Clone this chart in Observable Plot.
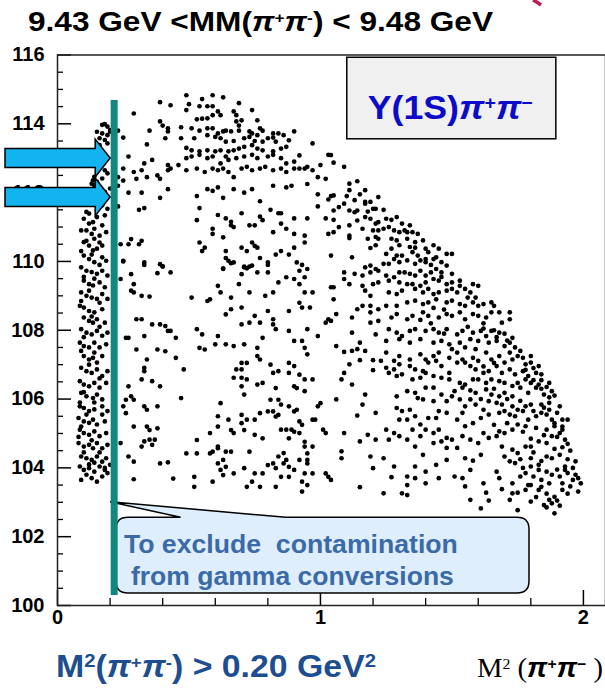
<!DOCTYPE html>
<html><head><meta charset="utf-8">
<script src="https://cdn.jsdelivr.net/npm/d3@7"></script>
<script src="https://cdn.jsdelivr.net/npm/@observablehq/plot@0.6"></script>
<style>
html,body{margin:0;padding:0;background:#fff;}
#chart{width:605px;height:688px;overflow:hidden;}
</style></head><body><div id="chart"></div>
<script>
// ---- data: Dalitz-plot events (x = M²(π+π-) GeV², y = M²(Υπ) GeV²) ----
const leftBand = [
[0.17,113.97],[0.18,113.99],[0.19,113.92],[0.15,113.77],[0.17,113.72],[0.19,113.67],[0.20,113.77],[0.16,113.58],[0.18,113.53],[0.19,113.43],[0.16,113.38],[0.20,113.82],
[0.14,112.46],[0.135,112.36],[0.15,112.31],[0.13,112.26],[0.14,112.21],[0.18,112.65],[0.19,112.56],[0.17,112.41],[0.20,112.12],[0.185,111.83],[0.17,111.63],[0.19,111.53],[0.15,111.83],[0.18,112.02],
[0.11,111.44],[0.12,111.39],[0.10,111.24],[0.12,111.10],[0.135,111.14],[0.15,111.29],[0.18,111.34],[0.17,111.05],[0.11,110.90],[0.13,110.80],[0.14,110.66],[0.16,110.75],[0.185,110.85],[0.10,110.56],[0.12,110.46],[0.135,110.32],[0.15,110.37],[0.17,110.46],[0.10,110.17],[0.12,110.07],[0.14,109.98],[0.17,110.12],[0.185,110.02],[0.09,109.83],[0.11,109.73],[0.13,109.69],[0.15,109.64],[0.17,109.73],[0.19,109.59],[0.10,109.44],[0.12,109.34],[0.135,109.30],[0.16,109.39],[0.18,109.25],[0.09,109.10],[0.11,109.00],[0.13,108.95],[0.15,108.91],[0.17,109.05],[0.19,108.91],[0.085,108.71],[0.10,108.66],[0.12,108.56],[0.14,108.52],[0.17,108.61],[0.10,108.37],[0.12,108.27],[0.135,108.22],[0.15,108.32],[0.18,108.22],[0.09,108.03],[0.11,107.93],[0.13,107.88],[0.15,107.98],[0.17,107.84],[0.19,107.93],[0.085,107.64],[0.10,107.54],[0.12,107.50],[0.14,107.64],[0.16,107.50],[0.185,107.59],[0.10,107.25],[0.12,107.15],[0.135,107.20],[0.15,107.06],[0.17,107.25],[0.09,106.91],[0.11,106.81],[0.13,106.76],[0.15,106.86],[0.17,106.67],[0.19,106.81],[0.085,106.52],[0.10,106.42],[0.12,106.37],[0.14,106.47],[0.16,106.33],[0.185,106.47],[0.09,106.18],[0.11,106.08],[0.135,106.03],[0.15,106.13],[0.17,105.99],[0.085,105.79],[0.10,105.74],[0.12,105.65],[0.14,105.70],[0.17,105.79],[0.19,105.65],[0.08,105.45],[0.10,105.35],[0.12,105.31],[0.135,105.40],[0.15,105.26],[0.18,105.35],[0.085,105.11],[0.10,105.01],[0.12,104.96],[0.14,105.06],[0.16,104.92],[0.185,105.01],[0.08,104.72],[0.10,104.62],[0.12,104.67],[0.135,104.57],[0.15,104.72],[0.17,104.57],[0.19,104.67],[0.09,104.33],[0.11,104.28],[0.13,104.23],[0.15,104.33],[0.17,104.18],[0.185,104.28],[0.085,104.04],[0.10,103.94],[0.12,103.99],[0.14,103.89],[0.16,104.04],[0.18,103.94],[0.20,104.09],[0.09,103.65],[0.13,103.70],[0.17,103.75],[0.15,103.60],
[0.09,110.9],[0.14,110.95],[0.11,110.6],[0.16,110.55],[0.09,110.3],[0.13,110.2],[0.16,109.9],[0.10,109.55],[0.14,109.5],[0.12,109.15],[0.16,108.8],[0.09,108.85],[0.13,108.4],[0.16,108.1],[0.10,107.8],[0.14,107.35],[0.12,107.0],[0.16,106.6],[0.10,106.2],[0.14,105.9],[0.11,105.55],[0.17,105.55],[0.09,105.2],[0.13,104.8],[0.10,104.45],[0.16,104.45],[0.12,104.1],[0.14,104.15],[0.18,104.0],[0.11,103.8],[0.19,103.85],[0.08,104.9],[0.085,105.9],[0.09,107.4]
];
const upperArc = [
[0.49,114.83],[0.55,114.72],[0.59,114.83],[0.63,114.77],[0.39,114.63],[0.43,114.54],[0.50,114.57],[0.54,114.51],[0.57,114.51],[0.59,114.51],[0.61,114.36],[0.62,114.25],[0.67,114.36],[0.69,114.60],[0.74,114.40],[0.29,114.30],[0.49,114.40],[0.53,114.13],[0.55,114.15],[0.57,114.16],[0.59,114.25],[0.68,114.25],[0.70,114.10],[0.76,114.10],[0.68,114.07],[0.69,113.95],[0.39,114.07],[0.40,113.95],[0.42,113.87],[0.42,113.78],[0.35,113.80],[0.47,113.90],[0.51,113.87],[0.54,113.80],[0.57,113.87],[0.59,113.87],[0.61,113.72],[0.63,113.78],[0.64,113.80],[0.66,113.78],[0.69,113.80],[0.73,113.78],[0.74,113.72],[0.77,113.87],[0.78,113.80],[0.76,113.67],[0.82,113.72],[0.84,113.72],[0.86,113.67],[0.90,113.78],[0.23,113.80],[0.25,113.60],[0.41,113.58],[0.47,113.58],[0.52,113.58],[0.57,113.67],[0.60,113.62],[0.62,113.58],[0.64,113.48],[0.67,113.50],[0.71,113.58],[0.73,113.62],[0.75,113.50],[0.78,113.48],[0.80,113.58],[0.82,113.60],[0.83,113.48],[0.88,113.52],[0.34,113.40],[0.49,113.30],[0.51,113.23],[0.54,113.20],[0.57,113.23],[0.60,113.20],[0.62,113.23],[0.65,113.20],[0.67,113.23],[0.69,113.28],[0.71,113.33],[0.74,113.38],[0.76,113.28],[0.78,113.23],[0.82,113.20],[0.85,113.28],[0.87,113.33],[0.92,113.08],[0.97,113.43],[0.27,113.05],[0.36,112.95],[0.33,112.85],[0.42,112.80],[0.43,112.70],[0.49,113.00],[0.51,113.05],[0.54,113.10],[0.57,113.00],[0.59,113.05],[0.62,112.85],[0.64,113.05],[0.65,112.95],[0.68,113.00],[0.71,113.05],[0.74,113.10],[0.76,113.00],[0.80,113.05],[0.82,113.10],[0.85,113.00],[0.87,112.85],[0.90,112.90],[0.92,112.70],[0.95,112.75],[0.97,112.65],[1.00,112.80],[1.03,113.10],[0.25,112.70],[0.29,112.60],[0.32,112.65],[0.34,112.45],[0.38,112.50],[0.39,112.40],[0.42,112.65],[0.46,112.80],[0.49,112.65],[0.53,112.70],[0.56,112.60],[0.59,112.70],[0.61,112.65],[0.63,112.70],[0.65,112.60],[0.67,112.45],[0.70,112.70],[0.72,112.75],[0.74,112.65],[0.77,112.70],[0.79,112.75],[0.82,112.65],[0.85,112.70],[0.87,112.60],[0.90,112.70],[0.94,112.70],[0.99,112.45],[1.02,112.40],[0.23,112.45],[0.25,112.35],[0.30,112.40],[0.23,112.20],[0.27,112.00],[0.32,112.00],[0.39,111.85],[0.42,112.10],[0.53,111.90],[0.57,112.10],[0.61,112.15],[0.59,112.05],[0.63,111.85],[0.67,112.10],[0.71,112.00],[0.74,112.10],[0.77,111.75],[0.82,112.20],[0.87,112.15],[0.89,112.20],[0.95,112.25],[0.99,111.95],[1.03,111.80],[0.23,111.60],[0.31,111.50],[0.33,111.55],[0.53,111.20],[0.54,111.55],[0.61,111.35],[0.64,111.25],[0.66,111.15],[0.66,111.05],[0.70,111.40],[0.73,111.05],[0.75,111.05],[0.77,111.30],[0.78,111.20],[0.81,111.50],[0.84,111.40],[0.85,111.40],[0.90,111.25],[0.95,111.25],[0.99,111.60],[1.02,111.25],[0.28,110.65],[0.32,110.60],[0.24,110.50],[0.27,110.50],[0.31,110.50],[0.59,110.95],[0.59,110.80],[0.63,110.70],[0.67,111.00],[0.74,110.55],[0.75,110.45],[0.82,110.85],[0.85,111.10],[0.87,110.95],[0.90,110.80],[0.94,110.75],[1.03,110.80],[0.54,110.55],[0.55,110.30],[0.56,110.40],[0.70,110.40],[0.72,110.30],[0.76,110.40],[0.83,110.20],[0.85,110.30],[0.88,110.20],[0.90,110.40],[0.94,110.55],[0.77,110.10],[0.80,109.90],[0.64,110.30],[0.64,110.10],[0.66,109.95],[0.71,109.85],[0.72,109.80],[0.73,109.85],[0.25,110.00],[0.33,109.90],[0.40,109.85],[0.63,109.80],[0.93,109.90]
];
const rightSlope = [
[1.04,113.09],[1.05,112.87],[1.09,112.75],[1.11,112.26],[1.14,112.33],[1.11,112.07],[1.17,112.07],[1.22,111.87],[1.05,111.92],[1.04,111.90],[1.13,111.78],[1.17,111.73],[1.19,111.73],[1.17,111.68],[1.09,111.68],[1.07,111.58],[1.05,111.48],[1.11,111.48],[1.13,111.43],[1.14,111.48],[1.20,111.53],[1.21,111.53],[1.24,111.50],[1.05,111.21],[1.17,111.29],[1.14,111.19],[1.19,111.24],[1.21,111.10],[1.22,111.14],[1.25,111.24],[1.27,111.21],[1.29,111.29],[1.31,111.10],[1.34,111.05],[1.07,111.00],[1.11,111.05],[1.16,110.95],[1.20,110.90],[1.22,110.90],[1.24,110.95],[1.28,110.90],[1.30,110.85],[1.32,110.90],[1.35,110.85],[1.37,110.80],[1.05,110.85],[1.11,110.75],[1.11,110.68],[1.18,110.66],[1.21,110.71],[1.22,110.66],[1.27,110.66],[1.29,110.61],[1.33,110.66],[1.36,110.56],[1.39,110.61],[1.19,110.39],[1.21,110.47],[1.27,110.37],[1.30,110.47],[1.34,110.42],[1.25,110.22],[1.29,110.17],[1.31,110.17],[1.35,110.27],[1.37,110.17],[1.40,110.37],[1.43,110.47],[1.45,110.37],[1.48,110.22],[1.50,110.22],[1.41,110.27],[1.44,110.12],[1.40,110.07],[1.04,110.17],[1.12,110.12],[1.28,110.07],[1.30,109.98],[1.33,110.03],[1.36,109.93],[1.38,110.03],[1.40,109.98],[1.43,110.07],[1.46,109.98],[1.48,109.88],[1.26,109.93],[1.24,109.93],[1.17,109.83],[1.19,109.88],[1.21,109.78],[1.09,109.68],[1.09,109.49],[1.13,109.64],[1.16,109.59],[1.19,109.68],[1.22,109.73],[1.25,109.59],[1.28,109.54],[1.30,109.68],[1.32,109.68],[1.34,109.64],[1.36,109.59],[1.38,109.73],[1.40,109.59],[1.42,109.68],[1.44,109.78],[1.46,109.68],[1.50,109.64],[1.26,109.44],[1.30,109.39],[1.33,109.34],[1.35,109.34],[1.38,109.29],[1.40,109.39],[1.43,109.49],[1.45,109.44],[1.48,109.34],[1.50,109.39],[1.53,109.44],
[1.04,109.25],[1.05,109.25],[1.11,109.34],[1.16,109.29],[1.20,109.34],[1.22,109.39],[1.17,109.15],[1.19,109.00],[1.26,109.10],[1.29,109.05],[1.31,109.15],[1.36,109.20],[1.39,109.10],[1.41,109.20],[1.43,109.05],[1.45,109.10],[1.48,109.15],[1.50,109.20],[1.53,109.29],[1.55,109.20],[1.58,109.34],[1.60,109.29],[1.57,109.10],[1.59,108.95],[1.05,108.90],[1.16,108.71],[1.19,108.71],[1.19,108.52],[1.22,108.61],[1.25,108.71],[1.29,108.71],[1.33,108.81],[1.36,108.86],[1.39,108.76],[1.41,108.81],[1.44,108.90],[1.48,108.81],[1.50,108.86],[1.53,108.76],[1.55,108.71],[1.58,108.81],[1.60,108.71],[1.62,108.76],[1.65,108.81],[1.66,108.71],[1.68,108.52],[1.72,108.52],[1.06,108.47],[1.12,108.37],[1.14,108.61],[1.04,108.27],[1.19,108.22],[1.22,108.27],[1.27,108.37],[1.29,108.47],[1.33,108.32],[1.35,108.42],[1.39,108.52],[1.41,108.42],[1.45,108.37],[1.48,108.47],[1.50,108.42],[1.53,108.52],[1.55,108.32],[1.58,108.47],[1.60,108.42],[1.63,108.37],[1.65,108.52],[1.69,108.22],[1.72,108.32],[1.12,107.93],[1.21,107.88],[1.26,108.03],[1.29,107.93],[1.31,107.83],[1.34,107.98],[1.36,108.03],[1.40,107.98],[1.43,108.03],[1.45,107.93],[1.48,108.03],[1.52,107.88],[1.54,107.98],[1.58,107.93],[1.61,107.98],[1.63,107.83],[1.65,107.98],[1.68,107.93],[1.73,107.78],[1.06,107.54],[1.15,107.64],[1.25,107.69],[1.30,107.74],[1.34,107.64],[1.38,107.74],[1.43,107.64],[1.46,107.69],[1.49,107.59],[1.53,107.64],[1.57,107.74],[1.60,107.69],[1.64,107.64],[1.67,107.69],[1.70,107.54],[1.72,107.64]
];
const lowerLeft = [
[0.25,110.02],[0.33,109.97],[0.39,109.92],[0.40,109.86],[0.38,109.66],[0.43,109.68],[0.28,109.63],[0.24,109.49],[0.29,109.34],[0.28,109.15],[0.29,109.10],[0.32,109.00],[0.35,108.98],[0.51,108.95],[0.57,108.85],[0.58,108.90],[0.61,109.29],[0.62,109.10],[0.66,108.95],[0.65,110.02],[0.63,109.78],[0.67,109.97],[0.70,109.63],[0.71,109.83],[0.74,109.88],[0.76,109.68],[0.80,109.97],[0.80,109.68],[0.84,109.39],[0.87,109.54],[0.90,109.49],[0.91,109.97],[0.92,109.73],[0.92,109.34],[0.94,109.54],[0.95,109.78],[0.94,109.10],[0.97,109.10],[0.92,108.80],[0.93,108.66],[0.96,108.66],[0.69,109.34],[0.73,109.10],[0.79,109.00],[0.82,109.10],[0.66,108.61],[0.64,108.46],[0.70,108.66],[0.75,108.42],[0.80,108.56],[0.82,108.32],[0.83,108.03],[0.88,107.98],[0.88,108.56],[0.95,108.03],[0.99,107.83],[1.02,108.22],[1.03,108.32],[0.30,108.32],[0.32,108.32],[0.36,108.17],[0.39,108.17],[0.41,108.12],[0.42,107.98],[0.43,107.98],[0.45,107.78],[0.26,107.78],[0.27,107.78],[0.33,107.83],[0.30,107.44],[0.38,107.44],[0.41,107.39],[0.45,107.20],[0.34,107.15],[0.33,106.91],[0.33,106.81],[0.32,106.57],[0.36,106.52],[0.39,106.37],[0.48,106.86],[0.53,108.03],[0.55,107.88],[0.61,107.83],[0.60,107.59],[0.64,107.59],[0.67,107.54],[0.71,107.59],[0.54,107.49],[0.56,107.44],[0.70,108.17],[0.73,108.22],[0.77,108.22],[0.78,107.78],[0.82,108.17],[0.90,107.69],[0.93,107.69],[0.94,107.49],[0.95,107.30],[0.76,107.49],[0.76,107.25],[0.77,107.15],[0.70,107.05],[0.68,106.86],[0.70,106.86],[0.72,107.05],[0.67,106.62],[0.70,106.62],[0.72,106.57],[0.70,106.37],[0.71,106.13],[0.76,106.42],[0.78,106.47],[0.81,107.00],[0.82,106.76],[0.84,106.81],[0.88,106.76],[0.88,107.05],[0.90,106.96],[0.92,106.71],[0.94,106.57],[0.97,106.57],[0.94,106.23],[0.90,106.37],[0.91,106.32],[0.83,106.32],[0.81,105.98],[0.84,105.98],[0.85,105.84],[0.88,105.79],[0.91,105.69],[0.90,105.64],[0.99,105.79],[1.00,105.88],[0.97,105.40],[0.98,105.40],[0.92,105.35],[0.93,105.25],[1.01,105.11],[1.02,105.01],[0.85,105.11],[0.87,105.11],[0.89,105.11],[0.90,105.05],[0.92,105.01],[0.88,104.86],[0.94,104.62],[0.94,104.76],[0.95,104.23],[0.95,104.13],[0.92,104.23],[0.90,103.94],[0.94,103.84],[0.93,103.60],[0.95,103.50],[0.93,103.31],[0.88,103.74],[0.85,103.74],[0.83,103.99],[0.84,104.33],[0.86,104.43],[0.87,104.23],[0.86,104.13],[0.88,104.03],[0.82,104.13],[0.80,104.08],[0.78,103.84],[0.83,103.45],[0.77,103.45],[0.74,103.60],[0.72,103.45],[0.75,103.84],[0.71,103.99],[0.67,103.84],[0.64,104.03],[0.62,103.94],[0.63,103.79],[0.59,103.60],[0.52,103.74],[0.52,103.45],[0.44,103.69],[0.42,104.16],[0.39,104.13],[0.29,103.67],[0.29,104.18],[0.27,104.33],[0.32,104.62],[0.33,104.77],[0.35,104.82],[0.36,104.67],[0.34,105.20],[0.35,105.10],[0.38,105.15],[0.37,104.82],[0.29,105.20],[0.24,104.72],[0.26,105.59],[0.25,105.79],[0.26,105.98],[0.28,106.08],[0.29,105.98],[0.27,106.37],[0.33,105.79],[0.34,105.69],[0.38,105.79],[0.47,106.03],[0.49,104.42],[0.53,104.81],[0.53,104.42],[0.58,104.42],[0.59,104.47],[0.61,104.62],[0.61,104.57],[0.64,104.47],[0.66,104.47],[0.67,105.01],[0.66,105.10],[0.71,105.10],[0.70,105.30],[0.72,105.40],[0.75,104.96],[0.78,104.86],[0.75,105.40],[0.77,105.59],[0.80,105.64],[0.83,105.49],[0.84,105.54],[0.82,105.64],[0.65,105.40],[0.61,105.50],[0.58,105.01],[0.61,105.20],[0.62,105.88],[0.70,105.54],[0.73,104.47],[0.61,104.13],[0.63,104.23],[0.97,104.62],[0.95,104.42],[0.97,103.84],[1.02,103.84],[1.03,103.74]
];
const lowerRight = [
[1.09,107.37],[1.12,107.40],[1.14,107.45],[1.17,107.40],[1.20,107.13],[1.20,106.84],[1.15,107.13],[1.11,107.01],[1.09,106.76],[1.08,106.57],[1.06,105.99],[1.12,106.42],[1.17,106.13],[1.16,105.84],[1.14,105.52],[1.21,105.60],[1.09,105.01],[1.15,104.77],[1.18,104.96],[1.21,104.82],[1.19,104.33],[1.24,104.28],[1.20,103.99],[1.08,104.48],[1.08,104.28],[1.15,103.44],[1.24,103.26],[1.28,104.04],[1.31,103.26],[1.33,103.21],[1.27,103.73],[1.33,103.75],[1.33,103.50],[1.36,104.04],[1.36,103.70],[1.40,103.89],[1.40,103.55],[1.44,104.09],[1.45,103.70],[1.48,104.23],[1.39,104.38],[1.36,104.62],[1.38,104.92],[1.43,104.72],[1.46,104.77],[1.48,104.58],[1.52,104.58],[1.55,104.28],[1.58,104.21],[1.61,104.38],[1.57,103.94],[1.51,103.75],[1.54,103.70],[1.55,103.46],[1.57,103.07],[1.61,102.82],[1.63,103.28],[1.64,103.05],[1.62,103.55],[1.67,103.89],[1.68,103.70],[1.69,103.38],[1.72,103.07],[1.73,103.26],[1.75,103.28],[1.78,103.36],[1.79,103.50],[1.73,103.55],[1.76,103.75],[1.78,103.85],[1.80,104.04],[1.83,103.94],[1.86,103.89],[1.88,103.80],[1.91,103.75],[1.93,104.04],[1.97,104.19],[1.99,103.55],[1.98,103.31],[1.95,103.46],[1.92,103.36],[1.89,103.16],[1.87,103.07],[1.85,102.92],[1.88,102.97],[1.89,102.68],[1.75,102.77],[1.80,103.02],[1.83,103.36],[1.80,103.50],[1.84,103.65],[1.87,103.55],[1.83,104.09],[1.80,104.28],[1.86,104.33],[1.88,104.28],[1.91,104.38],[1.93,103.94],[1.96,103.65],[1.94,103.85],[1.74,104.14],[1.72,104.19],[1.70,104.33],[1.69,104.62],[1.73,104.53],[1.75,104.43],[1.78,104.62],[1.80,104.62],[1.83,104.77],[1.86,104.72],[1.88,104.92],[1.91,105.01],[1.92,105.11],[1.93,104.82],[1.89,105.21],[1.86,105.11],[1.82,105.16],[1.78,105.21],[1.75,105.26],[1.73,105.11],[1.70,105.01],[1.68,105.06],[1.67,104.92],[1.64,104.87],[1.62,105.01],[1.60,104.72],[1.57,104.82],[1.54,104.92],[1.50,104.82],[1.48,104.87],[1.45,105.11],[1.43,105.01],[1.40,105.11],[1.35,105.11],[1.33,104.82],[1.30,104.92],[1.28,105.01],[1.26,104.82],[1.25,105.11],[1.30,105.40],[1.33,105.40],[1.36,105.50],[1.38,105.26],[1.41,105.45],[1.44,105.45],[1.48,105.60],[1.52,105.40],[1.54,105.60],[1.55,105.21],[1.58,105.30],[1.61,105.45],[1.64,105.55],[1.68,105.60],[1.70,105.65],[1.74,105.50],[1.77,105.65],[1.79,105.40],[1.82,105.50],[1.84,105.60],[1.88,105.40],[1.92,105.40],[1.94,105.40],[1.91,105.79],[1.87,105.69],[1.84,105.84],[1.80,105.84],[1.78,105.79],[1.75,105.69],[1.73,105.79],[1.69,105.84],[1.67,105.89],[1.64,105.94],[1.62,105.69],[1.59,105.84],[1.55,105.79],[1.53,105.99],[1.50,106.08],[1.48,105.94],[1.45,105.65],[1.43,105.94],[1.39,105.99],[1.37,106.03],[1.34,105.69],[1.31,105.65],[1.29,105.74],[1.29,106.08],[1.33,106.23],[1.36,106.18],[1.40,106.33],[1.43,106.33],[1.46,106.13],[1.51,106.23],[1.54,106.33],[1.57,105.99],[1.59,106.18],[1.63,106.28],[1.65,106.13],[1.68,106.08],[1.70,106.18],[1.73,106.08],[1.76,106.33],[1.79,106.18],[1.82,106.33],[1.85,106.13],[1.88,106.23],[1.87,105.89],[1.83,106.42],[1.80,106.47],[1.78,106.57],[1.75,106.47],[1.73,106.38],[1.70,106.47],[1.68,106.52],[1.65,106.57],[1.63,106.47],[1.60,106.57],[1.58,106.57],[1.55,106.42],[1.53,106.47],[1.49,106.57],[1.46,106.62],[1.43,106.67],[1.40,106.76],[1.38,106.62],[1.35,106.57],[1.31,106.72],[1.29,106.67],[1.26,106.76],[1.25,106.91],[1.28,106.86],[1.30,107.01],[1.34,106.96],[1.36,106.86],[1.39,106.81],[1.41,107.06],[1.44,107.11],[1.46,106.96],[1.49,106.76],[1.52,107.06],[1.54,107.15],[1.57,106.96],[1.59,106.86],[1.62,106.76],[1.64,106.81],[1.67,106.96],[1.69,106.76],[1.72,106.86],[1.74,106.72],[1.77,106.81],[1.79,106.67],[1.82,106.76],[1.84,106.72],[1.87,106.47],[1.83,106.96],[1.80,107.06],[1.78,107.01],[1.75,107.25],[1.73,107.15],[1.70,107.06],[1.68,107.25],[1.65,107.15],[1.63,107.35],[1.60,107.11],[1.58,107.20],[1.55,107.06],[1.52,107.35],[1.49,107.20],[1.45,107.35],[1.43,107.25],[1.40,107.15],[1.38,107.30],[1.34,107.15],[1.30,107.25],[1.28,107.11],[1.25,107.35],[1.23,107.11],[1.04,103.65]
];
const outerEdge = [
[1.62,108.2],[1.66,108.0],[1.70,107.9],[1.67,107.8],[1.71,107.7],[1.74,107.5],[1.76,107.4],[1.72,107.35],[1.77,107.2],[1.80,107.25],[1.81,106.9],[1.78,106.85],[1.84,106.55],[1.86,106.35],[1.81,106.55],[1.84,106.3],[1.87,106.05],[1.89,106.1],[1.90,105.6],[1.86,105.55],[1.89,105.3],[1.92,105.2],[1.90,104.9],[1.94,104.7],[1.95,104.5],[1.92,104.6],[1.96,104.0],[1.94,104.25],[1.97,103.8],[1.98,103.7],[1.90,103.95],[1.92,103.55],[1.94,103.25],[1.90,103.05],[1.86,103.25],[1.82,103.15],[1.86,102.85],[1.91,102.9],[1.84,103.45],[1.81,103.75],[1.77,104.0],[1.76,104.25],[1.81,104.45],[1.84,104.2],[1.89,104.55],[1.85,104.95],[1.80,104.85],[1.77,105.05],[1.71,105.3],[1.66,105.25],[1.72,105.55],[1.81,105.65],[1.85,105.75],[1.76,105.95],[1.71,106.0],[1.66,106.3],[1.61,106.0],[1.57,106.25],[1.62,106.95],[1.66,107.05],[1.59,107.45],[1.55,107.5],[1.50,107.45],[1.47,107.9],[1.42,108.2],[1.38,108.3],[1.56,108.1],[1.62,108.05],[1.47,108.6],[1.43,108.65],[1.56,108.95],[1.52,109.1],[1.46,109.55],[1.42,109.9],[1.36,110.4],[1.33,110.85],[1.26,111.0],[1.18,111.45],[1.10,111.9],[1.15,111.95]
];

// ---- axes and annotation values ----
const xDomain = [0, 2.084];
const yDomain = [100, 116];
const xMajor = [0, 1, 2];
const xMinor = [0.2, 0.4, 0.6, 0.8, 1.2, 1.4, 1.6, 1.8];
const yMajor = [100, 102, 104, 106, 108, 110, 112, 114, 116];
const yMinor = [100.5,101,101.5,102.5,103,103.5,104.5,105,105.5,106.5,107,107.5,108.5,109,109.5,110.5,111,111.5,112.5,113,113.5,114.5,115,115.5];
const cutValue = [0.2155];           // M²(π+π-) cut drawn as vertical line
const cutSpan = [100.29, 114.68];    // y extent of the cut line
const arrowLevels = [112.99, 111.86];
const callout = {x1: 0.224, x2: 1.795, y1: 100.35, y2: 102.55, tipX: 0.2015, tipY: 103.0, baseX1: 0.47, baseX2: 0.87};
const boxLabel = {x1: 1.102, x2: 1.897, y1: 113.55, y2: 115.92};

const points = [...leftBand, ...upperArc, ...rightSlope, ...lowerLeft, ...lowerRight, ...outerEdge];

const FONT = "'Liberation Sans', Arial, Helvetica, sans-serif";
const TEAL = "#11877d";
const fw = 605 - 57, fh = 605 - 54.5;

const plot = Plot.plot({
  width: 605, height: 688,
  marginLeft: 57, marginRight: 0, marginTop: 54.5, marginBottom: 83,
  x: {domain: xDomain, axis: null},
  y: {domain: yDomain, axis: null},
  style: {fontFamily: FONT, background: "#fff", overflow: "visible"},
  marks: [
    Plot.dot(points, {x: d => d[0], y: d => d[1], r: 2.35, fill: "#000"}),
    Plot.tickY(yMinor, {y: d => d, insetRight: fw - 6, stroke: "#000", strokeWidth: 1.3}),
    Plot.tickY(yMajor, {y: d => d, insetRight: fw - 14, stroke: "#000", strokeWidth: 1.5}),
    Plot.tickX(xMinor, {x: d => d, insetTop: fh - 7, stroke: "#000", strokeWidth: 1.3}),
    Plot.tickX(xMajor, {x: d => d, insetTop: fh - 15, stroke: "#000", strokeWidth: 1.5}),
    Plot.text(yMajor, {y: d => d, frameAnchor: "left", dx: -13, textAnchor: "end", text: d => String(d), fontSize: 20, fontWeight: "bold", fill: "#000"}),
    Plot.text(xMajor, {x: d => d, frameAnchor: "bottom", dy: 18, text: d => String(d), fontSize: 20, fontWeight: "bold", fill: "#000"}),
    Plot.frame({stroke: "#222", strokeWidth: 1.5}),
    Plot.ruleX(cutValue, {x: d => d, y1: cutSpan[0], y2: cutSpan[1], stroke: TEAL, strokeWidth: 7})
  ]
});
document.getElementById("chart").appendChild(plot);

const sx = plot.scale("x"), sy = plot.scale("y");
const X = v => sx.apply(v), Y = v => sy.apply(v);
const svg = d3.select(plot);

function rich(g, x, y, parts, attrs) {
  const t = g.append("text").attr("x", x).attr("y", y).attr("text-anchor", "start");
  for (const [k, v] of Object.entries(attrs)) t.attr(k, v);
  for (const p of parts) {
    const s = t.append("tspan").text(p.t);
    if (p.i) s.attr("font-style", "italic");
    if (p.b) s.attr("font-weight", "bold");
    if (p.f) s.attr("font-family", p.f);
    if (p.sup) s.attr("baseline-shift", "super").attr("font-size", p.sup);
  }
  return t;
}

// callout (below the cut line)
const cg = svg.append("g").attr("text-anchor", "start");
{
  const l = X(callout.x1), r = X(callout.x2), t = Y(callout.y2), b = Y(callout.y1), rr = 12;
  const tx = X(callout.tipX), ty = Y(callout.tipY), b1 = X(callout.baseX1), b2 = X(callout.baseX2);
  const p = `M${tx},${ty} L${b2},${t} L${r - rr},${t} Q${r},${t} ${r},${t + rr} L${r},${b - rr} Q${r},${b} ${r - rr},${b} L${l + rr},${b} Q${l},${b} ${l},${b - rr} L${l},${t + rr} Q${l},${t} ${l + rr},${t} L${b1},${t} Z`;
  cg.append("path").attr("d", p).attr("fill", "#deeefc").attr("stroke", "#000").attr("stroke-width", 1.5);
  cg.append("text").attr("x", l + 8).attr("y", t + 36).attr("font-family", FONT).attr("font-size", 26)
    .attr("font-weight", "bold").attr("fill", "#3b6aa6").attr("textLength", 334).attr("lengthAdjust", "spacingAndGlyphs")
    .attr("text-anchor", "start").style("white-space", "pre").text("To exclude  contamination");
  cg.append("text").attr("x", l + 15).attr("y", t + 68).attr("font-family", FONT).attr("font-size", 26)
    .attr("font-weight", "bold").attr("fill", "#3b6aa6").attr("textLength", 323).attr("lengthAdjust", "spacingAndGlyphs")
    .attr("text-anchor", "start").text("from gamma conversions");
}
svg.select('g[aria-label="rule"]').raise();

// block arrows pointing to the cut
const ag = svg.append("g");
for (const lv of arrowLevels) {
  const tip = X(cutValue[0]) - 3.5, cy = Y(lv), hl = 15;
  ag.append("path")
    .attr("d", `M5,${cy - 9.5} L${tip - hl},${cy - 9.5} L${tip - hl},${cy - 19} L${tip},${cy} L${tip - hl},${cy + 19} L${tip - hl},${cy + 9.5} L5,${cy + 9.5} Z`)
    .attr("fill", "#12b3ef").attr("stroke", "#000").attr("stroke-width", 1.5).attr("stroke-linejoin", "miter");
}

// label box
{
  const l = X(boxLabel.x1), r = X(boxLabel.x2), t = Y(boxLabel.y2), b = Y(boxLabel.y1);
  svg.append("rect").attr("x", l).attr("y", t).attr("width", r - l).attr("height", b - t)
    .attr("fill", "#f0f0f0").attr("stroke", "#000").attr("stroke-width", 1.5);
  rich(svg, l + 21, b - 20, [
    {t: "Y(1S)"}, {t: "π", i: 1}, {t: "+", sup: "55%"}, {t: "π", i: 1}, {t: "−", sup: "55%"}
  ], {"font-family": FONT, "font-size": 33, "font-weight": "bold", fill: "#0b0bc9", textLength: 165, lengthAdjust: "spacingAndGlyphs"});
}

// title
rich(svg, 28, 31, [
  {t: "9.43 GeV <MM("}, {t: "π", i: 1}, {t: "+", sup: "55%"}, {t: "π", i: 1}, {t: "-", sup: "55%"}, {t: ") < 9.48 GeV"}
], {"font-family": FONT, "font-size": 28, "font-weight": "bold", fill: "#000", textLength: 465, lengthAdjust: "spacingAndGlyphs"});

// bottom cut statement
rich(svg, 56, 677, [
  {t: "M"}, {t: "2", sup: "60%"}, {t: "("}, {t: "π", i: 1}, {t: "+", sup: "55%"}, {t: "π", i: 1}, {t: "-", sup: "55%"}, {t: ") > 0.20 GeV"}, {t: "2", sup: "60%"}
], {"font-family": FONT, "font-size": 31, "font-weight": "bold", fill: "#1d4e8f", textLength: 320, lengthAdjust: "spacingAndGlyphs"});

// x-axis title
rich(svg, 477, 677, [
  {t: "M"}, {t: "2", sup: "55%"}, {t: " ("}, {t: "π", i: 1, b: 1, f: FONT}, {t: "+", sup: "55%", b: 1, f: FONT}, {t: "π", i: 1, b: 1, f: FONT}, {t: "−", sup: "55%", b: 1, f: FONT}, {t: " )"}
], {"font-family": "'Liberation Serif', 'Times New Roman', serif", "font-size": 27, fill: "#000", textLength: 126, lengthAdjust: "spacingAndGlyphs"});

// small crimson stroke at top right (cut-off decoration)
svg.append("path").attr("d", "M533,0 Q537,2 541,5").attr("fill", "none").attr("stroke", "#c4154f").attr("stroke-width", 3.5);
</script>
</body></html>
